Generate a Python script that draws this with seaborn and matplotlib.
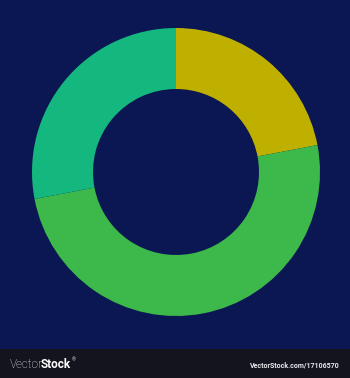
import matplotlib
matplotlib.use("Agg")
import matplotlib.pyplot as plt
import seaborn as sns

sns.set_theme(style="white")
plt.rcParams['font.family'] = ['Roboto', 'DejaVu Sans']

categories = ["Yellow", "Green", "Teal"]
values = [22, 50, 28]
colors = ["#BFB000", "#3DB84A", "#14B87E"]
brand_light = "Vector"
brand_bold = "Stock"
site_text = "VectorStock.com/17106570"

W, H = 350, 378
fig = plt.figure(figsize=(W / 100, H / 100), dpi=100)
fig.patch.set_facecolor("#0B1752")

# bottom bar
bar = fig.add_axes([0, 0, 1, 29 / H])
bar.set_facecolor("#14141F")
bar.set_xticks([]); bar.set_yticks([])
for s in bar.spines.values():
    s.set_visible(False)

cx, cy, r = 176, 172, 144
ax = fig.add_axes([(cx - r) / W, (H - cy - r) / H, 2 * r / W, 2 * r / H])
ax.set_facecolor("none")
ax.pie(values, colors=colors, startangle=90, counterclock=False, radius=1,
       wedgeprops=dict(width=1 - 83 / 144, linewidth=0))
ax.set_xlim(-1, 1); ax.set_ylim(-1, 1)
ax.set_aspect("auto")
ax.axis("off")

t1 = fig.text(10 / W, 13 / H, brand_light, color="#F2F2F6", fontsize=8.5,
              fontweight="light", va="center", ha="left")
fig.canvas.draw()
bb = t1.get_window_extent()
t2 = fig.text((bb.x1 - 2.5) / W, 13 / H, brand_bold, color="#FFFFFF", fontsize=8.5,
              fontweight="bold", va="center", ha="left")
fig.canvas.draw()
bb2 = t2.get_window_extent()
fig.text(bb2.x1 / W + 0.002, 18 / H, "®", color="#E8E8EE", fontsize=3.5,
         va="center", ha="left")
fig.text(340 / W, 13 / H, site_text, color="#E8E8EE", fontsize=5,
         fontweight="bold", va="center", ha="right")

fig.savefig("out.png", dpi=100, facecolor=fig.get_facecolor())
